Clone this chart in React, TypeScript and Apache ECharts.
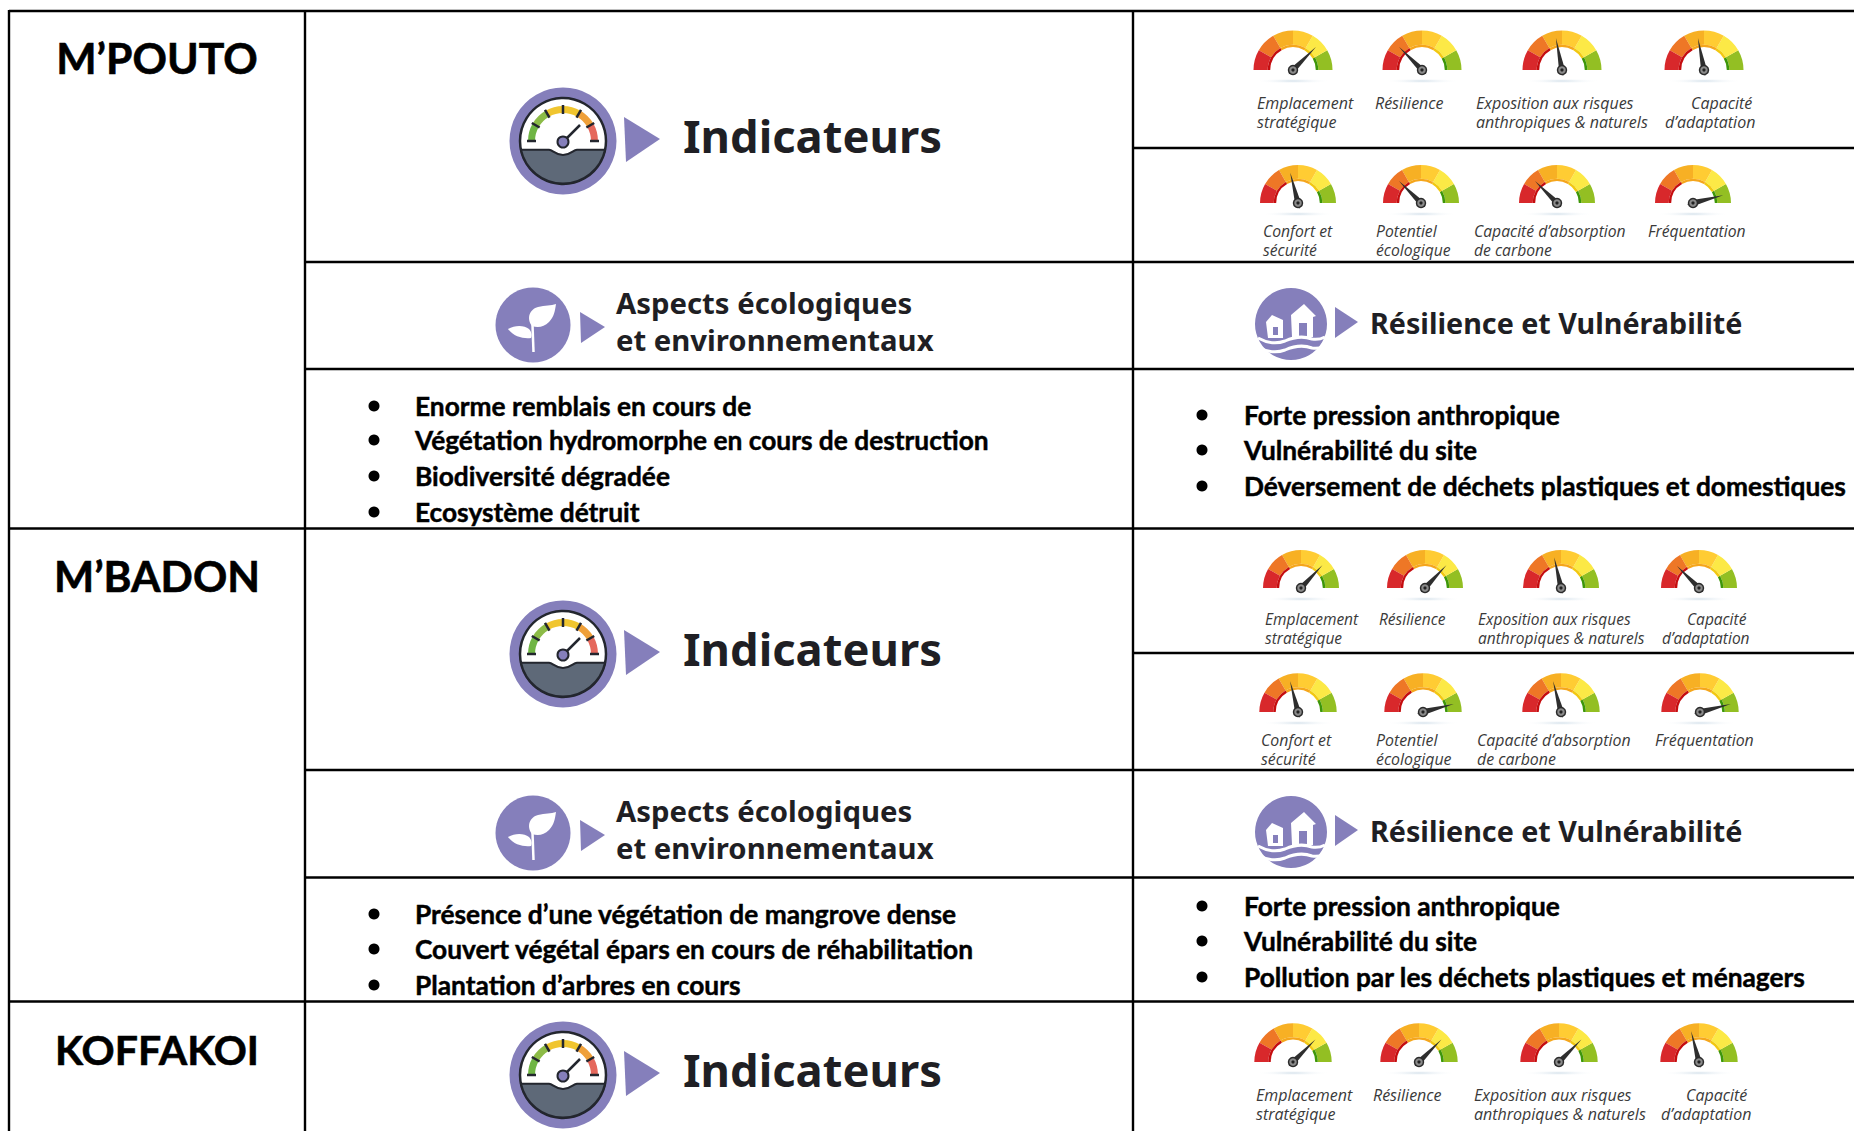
import React, { useEffect, useRef } from "react";
import * as echarts from "echarts";

// ---------- data ----------
const siteNames = ["M’POUTO", "M’BADON", "KOFFAKOI"];
const indicatorTitle = "Indicateurs";
const ecoTitle = ["Aspects écologiques", "et environnementaux"];
const resilienceTitle = "Résilience et Vulnérabilité";

const row1Labels = [["Emplacement", "stratégique"], ["Résilience"], ["Exposition aux risques", "anthropiques & naturels"], ["Capacité", "d’adaptation"]];
const row2Labels = [["Confort et", "sécurité"], ["Potentiel", "écologique"], ["Capacité d’absorption", "de carbone"], ["Fréquentation"]];

const mpoutoRow1Values = [75, 25, 44, 44];
const mpoutoRow2Values = [42, 25, 25, 92];
const mbadonRow1Values = [74, 74, 43, 25];
const mbadonRow2Values = [42, 92, 42, 92];
const koffakoiRow1Values = [75, 75, 75, 42];

const mpoutoEco = ["Enorme remblais en cours de", "Végétation hydromorphe en cours de destruction", "Biodiversité dégradée", "Ecosystème détruit"];
const mpoutoRes = ["Forte pression anthropique", "Vulnérabilité du site", "Déversement de déchets plastiques et domestiques"];
const mbadonEco = ["Présence d’une végétation de mangrove dense", "Couvert végétal épars en cours de réhabilitation", "Plantation d’arbres en cours"];
const mbadonRes = ["Forte pression anthropique", "Vulnérabilité du site", "Pollution par les déchets plastiques et ménagers"];

// ---------- layout ----------
const W = 1854, H = 1131;
const gaugeRows = [
  { values: mpoutoRow1Values, labels: row1Labels, cx: [1293, 1422, 1562, 1704], cy: 70, r: 39.5, size: 16, ly: [103, 122], lx: [[1257, 1257], [1375], [1476, 1476], [1691, 1665]] },
  { values: mpoutoRow2Values, labels: row2Labels, cx: [1298, 1421, 1557, 1693], cy: 203, r: 38, size: 15.7, ly: [230.5, 249.5], lx: [[1263, 1263], [1376, 1376], [1474, 1474], [1648]] },
  { values: mbadonRow1Values, labels: row1Labels, cx: [1301, 1425, 1561, 1699], cy: 588, r: 38, size: 15.5, ly: [619, 638], lx: [[1265, 1265], [1379], [1478, 1478], [1687, 1662]] },
  { values: mbadonRow2Values, labels: row2Labels, cx: [1298, 1423, 1561, 1700], cy: 712, r: 38.7, size: 15.9, ly: [740, 758.5], lx: [[1261, 1261], [1376, 1376], [1477, 1477], [1655]] },
  { values: koffakoiRow1Values, labels: row1Labels, cx: [1293, 1419, 1559, 1699], cy: 1062, r: 38.7, size: 16, ly: [1094.5, 1113.5], lx: [[1256, 1256], [1373], [1474, 1474], [1686, 1661]] },
];

const outerColors: [number, string][] = [[1 / 6, "#D8282B"], [2 / 6, "#EE7726"], [3 / 6, "#F7B024"], [4 / 6, "#FFCC33"], [5 / 6, "#FCE946"], [1, "#93BF23"]];
const innerColors: [number, string][] = [[1 / 3, "#C50D0F"], [2 / 3, "#F5A61C"], [5 / 6, "#F2C811"], [1, "#3D9608"]];
const PURPLE = "#857FBB";
const DARK = "#1F1F24";

echarts.graphic.registerShape("gaugeBase", echarts.graphic.extendPath("M -42 8.7 L -14 8.7 C -10 9 -8 14 0 14 C 8 14 10 9 14 8.7 L 42 8.7 A 43 43 0 0 1 -42 8.7 Z", {}) as any);
echarts.graphic.registerShape("leafBig", echarts.graphic.extendPath("M -1 1 C -7 -7 -3 -16 5 -18 C 12 -20 18 -19 23 -21 C 22 -14 21 -8 16 -3 C 11 2 5 3 -1 1 Z", {}) as any);
echarts.graphic.registerShape("leafSmall", echarts.graphic.extendPath("M -25 4 C -18 0 -9 0 -4 4 C -1 7 -1 11 -2 13 C -9 14 -19 12 -25 4 Z", {}) as any);
echarts.graphic.registerShape("wave", echarts.graphic.extendPath("M -33 14 C -24 19 -14 20 -6 17 C 3 13 13 12 21 15 C 26 16 30 15 34 13", {}) as any);

const hline = (x1: number, x2: number, y: number) => ({ type: "line", shape: { x1, y1: y, x2, y2: y }, style: { stroke: "#000", lineWidth: 2.4 }, silent: true });
const vline = (x: number, y1: number, y2: number) => ({ type: "line", shape: { x1: x, y1, x2: x, y2 }, style: { stroke: "#000", lineWidth: 2.4 }, silent: true });
const txt = (text: string, x: number, y: number, font: string, fill = "#000", textAlign = "left", strokeW = 0, z = 5) => ({
  type: "text", x, y, z, style: { text, font, fill, textAlign, textVerticalAlign: "middle", ...(strokeW ? { stroke: fill, lineWidth: strokeW } : {}) },
});
const triangle = (pts: number[][]) => ({ type: "polygon", shape: { points: pts }, style: { fill: PURPLE } });

const sectorSeg = (a0: number, a1: number, fill: string) => ({
  type: "sector", shape: { cx: 0, cy: 0, r0: 28, r: 35, startAngle: Math.PI + (a0 * Math.PI) / 180, endAngle: Math.PI + (a1 * Math.PI) / 180 }, style: { fill },
});

function indicatorIcon(cy: number) {
  const ticks = [0, 30, 60, 90, 120, 150, 180];
  const segs = ["#6FB544", "#8CBB47", "#F0C52F", "#F0C52F", "#EFA03A", "#E5685C"];
  return [
    {
      type: "group", x: 563, y: cy, z: 3,
      children: [
        { type: "circle", shape: { cx: 0, cy: 0, r: 53.5 }, style: { fill: PURPLE } },
        { type: "circle", shape: { cx: 0, cy: 0, r: 43 }, style: { fill: "#fff", stroke: "#23262E", lineWidth: 2.5 } },
        ...segs.map((c, i) => sectorSeg(i * 30, (i + 1) * 30, c)),
        ...ticks.map((a) => {
          const t = Math.PI + (a * Math.PI) / 180;
          return { type: "line", shape: { x1: 27 * Math.cos(t), y1: 27 * Math.sin(t), x2: 36 * Math.cos(t), y2: 36 * Math.sin(t) }, style: { stroke: "#23262E", lineWidth: 2.5 } };
        }),
        { type: "gaugeBase", style: { fill: "#5E6978", stroke: "#23262E", lineWidth: 2 } },
        { type: "line", shape: { x1: 2, y1: -1, x2: 17, y2: -16 }, style: { stroke: "#23262E", lineWidth: 2.5 } },
        { type: "circle", shape: { cx: 0, cy: 1, r: 5.5 }, style: { fill: PURPLE, stroke: "#23262E", lineWidth: 2 } },
      ],
    },
    triangle([[624, cy - 24], [660, cy - 2], [626, cy + 21]]),
    txt(indicatorTitle, 683, cy - 6, "bold 45.3px 'Noto Sans'", DARK),
  ];
}

function ecoIcon(cy: number) {
  return [
    {
      type: "group", x: 533, y: cy, z: 3,
      children: [
        { type: "circle", shape: { cx: 0, cy: 0, r: 37.5 }, style: { fill: PURPLE } },
        { type: "leafBig", style: { fill: "#fff" } },
        { type: "leafSmall", style: { fill: "#fff" } },
        { type: "line", shape: { x1: -0.5, y1: 0, x2: 0.5, y2: 27 }, style: { stroke: "#fff", lineWidth: 2.5 } },
      ],
    },
    triangle([[580, cy - 13], [605, cy + 2], [581, cy + 18]]),
    txt(ecoTitle[0], 616, cy - 22, "bold 29.3px 'Noto Sans'", DARK),
    txt(ecoTitle[1], 616, cy + 15, "bold 29.3px 'Noto Sans'", DARK),
  ];
}

function resilienceIcon(cy: number) {
  return [
    {
      type: "group", x: 1291, y: cy, z: 3,
      children: [
        { type: "circle", shape: { cx: 0, cy: 0, r: 36 }, style: { fill: PURPLE } },
        { type: "polygon", shape: { points: [[-25, -2], [-19, -9], [-8, -4], [-8, 14], [-23, 14]] }, style: { fill: "#fff" } },
        { type: "polygon", shape: { points: [[0, -9], [13, -20], [25, -8], [22, -7], [22, 13], [1, 13]] }, style: { fill: "#fff" } },
        { type: "rect", shape: { x: -18, y: 3, width: 5, height: 8 }, style: { fill: PURPLE } },
        { type: "rect", shape: { x: 8, y: -1, width: 8, height: 14 }, style: { fill: PURPLE } },
        { type: "wave", y: 0, style: { fill: "none", stroke: "#fff", lineWidth: 3 } },
        { type: "wave", y: 9, style: { fill: "none", stroke: "#fff", lineWidth: 3 } },
      ],
    },
    triangle([[1335, cy - 17], [1358, cy - 2], [1335, cy + 14]]),
    txt(resilienceTitle, 1370, cy - 2, "bold 28.7px 'Noto Sans'", DARK),
  ];
}

function bullets(items: string[], bx: number, tx: number, ys: number[]) {
  return items.flatMap((t, i) => [
    { type: "circle", shape: { cx: bx, cy: ys[i], r: 5.5 }, style: { fill: "#000" } },
    txt(t, tx, ys[i], "bold 26.3px Lato", "#000", "left", 0.45),
  ]);
}

function buildOption() {
  const series: any[] = [];
  const gElems: any[] = [];
  gaugeRows.forEach((row) => {
    row.values.forEach((v, i) => {
      const center = [row.cx[i], row.cy];
      const base = {
        type: "gauge", center, startAngle: 180, endAngle: 0, min: 0, max: 100,
        splitLine: { show: false }, axisTick: { show: false }, axisLabel: { show: false },
        title: { show: false }, detail: { show: false }, animation: false, silent: true,
      };
      series.push({
        ...base, radius: row.r,
        axisLine: { roundCap: false, lineStyle: { width: row.r * 0.36, color: outerColors } },
        pointer: { show: false }, data: [{ value: v }],
      });
      series.push({
        ...base, radius: row.r * 0.64,
        axisLine: { lineStyle: { width: 2.5, color: innerColors } },
        pointer: { show: true, length: row.r * 0.82, width: 3, itemStyle: { color: "#2E2E2E" } },
        anchor: { show: true, showAbove: true, size: 9, itemStyle: { color: "#8A8A8A", borderColor: "#2A2A2A", borderWidth: 1.5 } },
        data: [{ value: v }],
      });
      gElems.push({
        type: "ellipse", z: 1,
        shape: { cx: row.cx[i], cy: row.cy + 11, rx: row.r * 0.95, ry: 2.5 },
        style: { fill: new echarts.graphic.RadialGradient(0.5, 0.5, 0.5, [{ offset: 0, color: "#D3E0EA" }, { offset: 1, color: "rgba(255,255,255,0)" }]) },
      });
      gElems.push({ type: "circle", z: 20, shape: { cx: row.cx[i], cy: row.cy, r: 1.6 }, style: { fill: "#222" } });
      row.labels[i].forEach((line, k) => {
        gElems.push(txt(line, row.lx[i][k], row.ly[k], `italic ${row.size}px 'Open Sans'`, "#3A3A3A"));
      });
    });
  });

  const elements: any[] = [
    hline(9, W, 11), hline(305, W, 262), hline(1133, W, 148), hline(305, W, 369), hline(9, W, 528.5),
    hline(1133, W, 653), hline(305, W, 770), hline(305, W, 877.5), hline(9, W, 1001.5),
    vline(9, 10, H), vline(305, 10, H), vline(1133, 10, H),
    txt(siteNames[0], 157, 57.5, "bold 42.7px Lato", "#000", "center", 0.6),
    txt(siteNames[1], 157, 575.5, "bold 42.5px Lato", "#000", "center", 0.6),
    txt(siteNames[2], 157, 1049.5, "bold 41px Lato", "#000", "center", 0.6),
    ...indicatorIcon(141), ...indicatorIcon(654), ...indicatorIcon(1075),
    ...ecoIcon(325), ...ecoIcon(833),
    ...resilienceIcon(324), ...resilienceIcon(832),
    ...bullets(mpoutoEco, 374, 415, [406, 440, 476, 512]),
    ...bullets(mpoutoRes, 1202, 1244, [415, 450, 486]),
    ...bullets(mbadonEco, 374, 415, [914, 949, 985]),
    ...bullets(mbadonRes, 1202, 1244, [906, 941, 977]),
    ...gElems,
  ];
  return { animation: false, backgroundColor: "#fff", series, graphic: { elements } };
}

export default function App() {
  const ref = useRef<HTMLDivElement>(null);
  useEffect(() => {
    document.body.style.margin = "0";
    const chart = echarts.init(ref.current!, undefined, { renderer: "svg" });
    chart.setOption(buildOption() as any);
    return () => chart.dispose();
  }, []);
  return <div ref={ref} style={{ width: W, height: H }} />;
}
